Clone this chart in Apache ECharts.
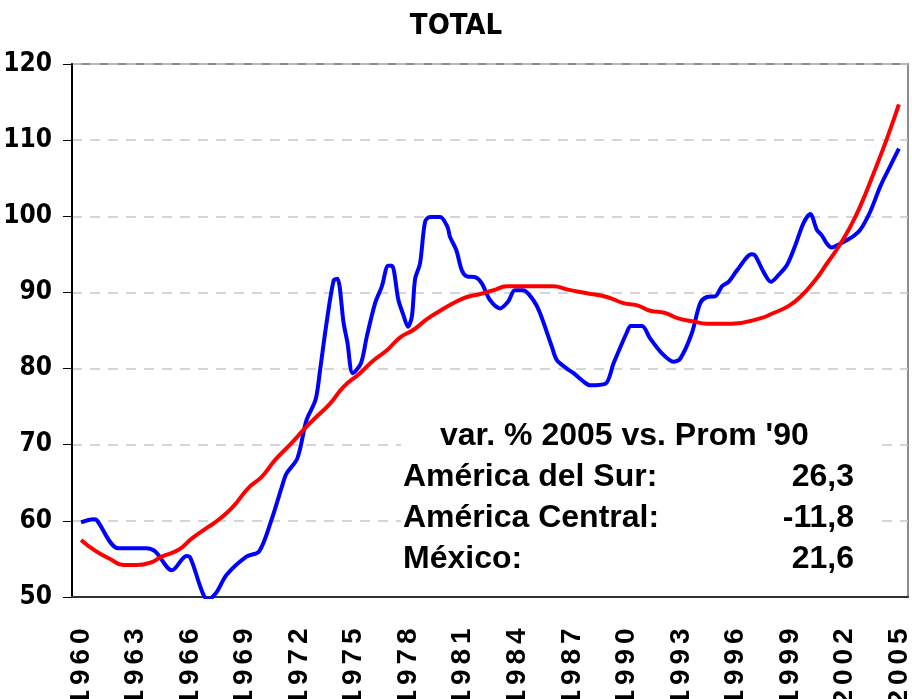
<!DOCTYPE html>
<html>
<head>
<meta charset="utf-8">
<script src="https://cdn.jsdelivr.net/npm/echarts@6/dist/echarts.min.js"></script>
<style>
  html, body { margin: 0; padding: 0; background: #fff; }
  #chart { width: 912px; height: 699px; }
</style>
</head>
<body>
<div id="chart"></div>
<script>
// categories (years) and tick labels
var years = [];
for (var y = 1960; y <= 2005; y++) years.push(String(y));

// blue series, x in fractional years
var blueX = [1960.0, 1960.68, 1960.86, 1962.05, 1963.6, 1964.07, 1965.0, 1965.8, 1966.0, 1967.0,
    1967.45, 1968.0, 1969.1, 1969.8, 1970.5, 1971.05, 1971.3, 1971.9, 1972.4, 1972.9,
    1973.15, 1973.5, 1973.9, 1974.1, 1974.45, 1974.65, 1974.95, 1975.4, 1975.72, 1976.18,
    1976.55, 1976.9, 1977.1, 1977.46, 1977.74, 1977.98, 1978.2, 1978.38, 1978.65, 1978.93,
    1979.2, 1979.76, 1980.16, 1980.3, 1980.64, 1980.95, 1981.23, 1981.68, 1982.05, 1982.5,
    1983.06, 1983.5, 1983.87, 1984.33, 1984.88, 1985.25, 1985.9, 1986.18, 1986.73, 1987.1,
    1987.64, 1988.0, 1988.85, 1989.3, 1990.04, 1990.25, 1990.86, 1991.3, 1991.96, 1992.6,
    1992.97, 1993.6, 1994.07, 1994.44, 1994.9, 1995.26, 1995.63, 1996.09, 1996.9, 1997.1,
    1997.55, 1997.96, 1998.38, 1998.84, 1999.3, 1999.75, 2000.12, 2000.49, 2000.76, 2001.04,
    2001.3, 2001.77, 2002.5, 2002.87, 2003.42, 2003.97, 2004.5, 2005.0];
var blueY = [59.8, 60.2, 60.1, 56.4, 56.4, 56.0, 53.5, 55.4, 55.2, 49.6,
    50.6, 52.9, 55.3, 56.0, 60.3, 64.5, 66.2, 68.2, 73.2, 75.9,
    79.8, 85.9, 91.6, 91.8, 85.9, 83.5, 79.4, 80.7, 84.2, 88.6,
    90.8, 93.5, 93.5, 89.0, 87.0, 85.5, 86.8, 91.8, 93.8, 99.3,
    99.9, 99.9, 98.6, 97.3, 95.6, 92.9, 92.1, 92.0, 91.2, 89.0,
    87.9, 88.8, 90.3, 90.3, 89.0, 87.3, 82.9, 81.1, 80.0, 79.4,
    78.3, 77.8, 78.0, 80.7, 84.8, 85.6, 85.6, 84.0, 82.0, 80.9,
    81.3, 84.6, 88.6, 89.4, 89.5, 90.8, 91.4, 92.9, 95.0, 94.8,
    92.7, 91.4, 92.3, 93.6, 96.2, 99.1, 100.3, 98.2, 97.5, 96.4,
    95.9, 96.4, 97.4, 98.2, 100.6, 103.9, 106.5, 108.9];

// red series (trend)
var redX = [1960.0, 1960.77, 1961.6, 1962.33, 1963.07, 1963.8, 1964.44, 1965.36, 1966.1, 1967.0,
    1967.65, 1968.38, 1969.2, 1969.95, 1970.68, 1971.5, 1972.42, 1972.97, 1973.7, 1974.44,
    1975.35, 1976.1, 1976.83, 1977.56, 1978.3, 1979.03, 1979.76, 1980.5, 1981.23, 1981.96,
    1982.7, 1983.43, 1984.16, 1986.0, 1986.73, 1987.83, 1988.93, 1989.84, 1990.6, 1991.31,
    1992.13, 1992.86, 1993.69, 1994.42, 1995.8, 1997.36, 1998.1, 1998.92, 1999.57, 2000.39,
    2001.04, 2001.68, 2002.32, 2002.87, 2003.6, 2004.34, 2005.0];
var redY = [57.5, 56.1, 55.0, 54.2, 54.2, 54.5, 55.3, 56.2, 57.7, 59.2,
    60.3, 61.9, 64.3, 65.8, 68.0, 70.0, 72.4, 73.7, 75.4, 77.6,
    79.4, 81.1, 82.4, 84.1, 85.1, 86.5, 87.6, 88.6, 89.4, 89.8,
    90.3, 90.8, 90.8, 90.8, 90.4, 89.9, 89.4, 88.6, 88.3, 87.6,
    87.3, 86.6, 86.2, 85.9, 85.9, 86.6, 87.3, 88.2, 89.4, 91.6,
    93.8, 96.0, 98.6, 101.3, 105.6, 110.2, 114.7];

// annotation box
var boxTitle = "var. % 2005 vs. Prom '90";
var regions = ['América del Sur:', 'América Central:', 'México:'];
var regionValues = ['26,3', '-11,8', '21,6'];

function pairs(xs, ys) {
    return xs.map(function (x, i) { return [x, ys[i]]; });
}

var myChart = echarts.init(document.getElementById('chart'));

var boldFont = 'Liberation Sans, Arial, sans-serif';
var narrowFont = 'DejaVu Sans Condensed, Liberation Sans Narrow, sans-serif';

var graphics = [
    {
        type: 'rect', z: 5,
        shape: {x: 401, y: 414, width: 476, height: 176},
        style: {fill: '#fff'}
    },
    {
        type: 'text', z: 6,
        left: 440, top: 420,
        style: {text: boxTitle, fontSize: 32, fontWeight: 'bold', fontFamily: boldFont, fill: '#000'}
    }
];
regions.forEach(function (r, i) {
    var top = 461 + i * 41;
    graphics.push({
        type: 'text', z: 6, left: 403, top: top,
        style: {text: r, fontSize: 32, fontWeight: 'bold', fontFamily: boldFont, fill: '#000'}
    });
    graphics.push({
        type: 'text', z: 6, right: 912 - 854, top: top,
        style: {text: regionValues[i], fontSize: 32, fontWeight: 'bold', fontFamily: boldFont, fill: '#000', textAlign: 'right'}
    });
});

var option = {
    animation: false,
    title: {
        text: 'TOTAL',
        left: 'center',
        top: 7,
        textStyle: {fontSize: 29, fontWeight: 'bold', fontFamily: narrowFont, color: '#000'}
    },
    grid: {
        left: 72, top: 64, right: 4, bottom: 102,
        outerBoundsMode: 'none',
        containLabel: false,
        show: true, borderColor: '#8c8c8c', borderWidth: 2
    },
    xAxis: [
        {
            type: 'category',
            data: years,
            boundaryGap: true,
            axisLine: {lineStyle: {color: '#333', width: 2}},
            axisTick: {interval: 0, length: 10, lineStyle: {color: '#000', width: 1}},
            axisLabel: {
                interval: 2,
                rotate: 90,
                margin: 29,
                formatter: function (v) {
                    return v.split('').map(function (c) { return '{d|' + c + '}'; }).join('');
                },
                rich: {
                    d: {width: 20.5, align: 'center', fontSize: 28, fontWeight: 'bold', fontFamily: boldFont, color: '#000'}
                }
            },
            splitLine: {show: false}
        },
        {
            type: 'value',
            min: 1959.5,
            max: 2005.5,
            show: false
        }
    ],
    yAxis: {
        type: 'value',
        min: 50,
        max: 120,
        interval: 10,
        axisLine: {show: true, lineStyle: {color: '#000', width: 2}},
        axisTick: {show: true, length: 9, lineStyle: {color: '#000'}},
        axisLabel: {margin: 20, fontSize: 26, fontWeight: 'bold', fontFamily: narrowFont, color: '#000'},
        splitLine: {lineStyle: {color: '#c8c8c8', type: [10, 8], width: 1.5}}
    },
    series: [
        {
            name: 'blue',
            type: 'line',
            xAxisIndex: 1,
            data: pairs(blueX, blueY),
            showSymbol: false,
            smooth: 0.3,
            lineStyle: {color: '#0000ff', width: 4},
            z: 3
        },
        {
            name: 'red',
            type: 'line',
            xAxisIndex: 1,
            data: pairs(redX, redY),
            showSymbol: false,
            smooth: true,
            lineStyle: {color: '#ff0000', width: 4},
            z: 4
        }
    ],
    graphic: graphics
};

myChart.setOption(option);

window.addEventListener("resize", function () {
    myChart.resize();
});
</script>
</body>
</html>
